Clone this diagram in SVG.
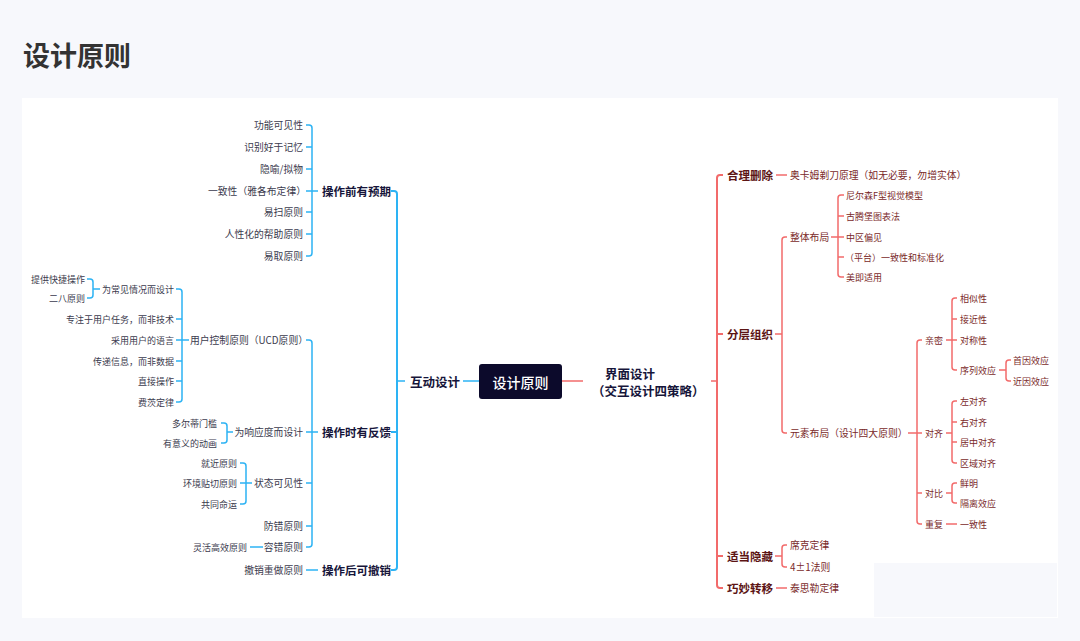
<svg xmlns="http://www.w3.org/2000/svg" width="1080" height="641" viewBox="0 0 1080 641">
<style>
text{font-family:"Noto Sans CJK SC","Noto Sans",sans-serif;dominant-baseline:central}
.title{font-size:27px;font-weight:bold;fill:#333333;dominant-baseline:alphabetic}
.l2{font-size:9.8px;fill:#3b3b4e;text-anchor:end}
.l3{font-size:9px;fill:#3b3b4e;text-anchor:end}
.lb{font-size:11.5px;font-weight:bold;fill:#16153a;text-anchor:end}
.mid{font-size:12.5px;font-weight:bold;fill:#16153a}
.root{font-size:14px;font-weight:500;fill:#ffffff;text-anchor:middle}
.r2{font-size:9.8px;fill:#7a2a2a}
.r3{font-size:9px;fill:#7a2a2a}
.rb{font-size:11.5px;font-weight:bold;fill:#5c1414}
.bl{fill:none;stroke:#2db3f4;stroke-width:1.5}
.rd{fill:none;stroke:#f26b6b;stroke-width:1.5}
</style>
<rect x="0" y="0" width="1080" height="641" fill="#f7f8fc"/>
<text class="title" x="23" y="66">设计原则</text>
<rect x="22" y="98" width="1036" height="520" fill="#ffffff"/>

<g id="connectors">
  <path class="bl" d="M463 381H479"/>
  <path class="bl" d="M397 381H405"/>
  <path class="bl" style="stroke-width:2" d="M391 191H394Q397 191 397 194V567Q397 570 394 570H391M391 432H397"/>
  <path class="bl" d="M306 125H309Q312 125 312 128V253Q312 256 309 256H306M306 147H312M306 169H312M306 212H312M306 234H312M306 191H318"/>
  <path class="bl" d="M306 340H309Q312 340 312 343V544Q312 547 309 547H306M306 483H312M306 526H312M306 432H318"/>
  <path class="bl" d="M306 570H318"/>
  <path class="bl" d="M176 289H179Q182 289 182 292V399Q182 402 179 402H176M176 319H182M176 361H182M176 381H182M176 340H189"/>
  <path class="bl" d="M87 279H90Q93 279 93 282V295Q93 298 90 298H87M93 289H100"/>
  <path class="bl" d="M221 423H224Q227 423 227 426V440Q227 443 224 443H221M227 432H233"/>
  <path class="bl" d="M240 463H243Q246 463 246 466V501Q246 504 243 504H240M240 483H252"/>
  <path class="bl" d="M250 547H263"/>

  <path class="rd" d="M561 381H583"/>
  <path class="rd" d="M711 381H717"/>
  <path class="rd" style="stroke-width:2" d="M723 175H720Q717 175 717 178V585Q717 588 720 588H723M717 334H723M717 556H723"/>
  <path class="rd" d="M776 175H787"/>
  <path class="rd" d="M787 237H785Q782 237 782 240V430Q782 433 785 433H787M775 334H782"/>
  <path class="rd" d="M844 195H841Q838 195 838 198V274Q838 277 841 277H844M838 216H844M838 257H844M831 237H844"/>
  <path class="rd" d="M922 340H920Q917 340 917 343V521Q917 524 920 524H922M917 493H922M908 433H922"/>
  <path class="rd" d="M957 298H955Q952 298 952 301V367Q952 370 955 370H957M952 319H957M946 340H957"/>
  <path class="rd" d="M1011 360H1009Q1006 360 1006 363V378Q1006 381 1009 381H1011M999 370H1006"/>
  <path class="rd" d="M957 401H955Q952 401 952 404V460Q952 463 955 463H957M952 422H957M952 442H957M946 433H952"/>
  <path class="rd" d="M957 483H955Q952 483 952 486V500Q952 503 955 503H957M946 493H952"/>
  <path class="rd" d="M946 524H957"/>
  <path class="rd" d="M787 545H785Q782 545 782 548V564Q782 567 785 567H787M775 556H782"/>
  <path class="rd" d="M776 588H787"/>
</g>

<g id="root"><rect x="479" y="364" width="83" height="35" rx="3" fill="#0c0a2b"/><text class="root" x="520.5" y="381.5">设计原则</text></g>

<g id="hudong"><text class="mid" x="410" y="381">互动设计</text></g>
<g id="qian"><text class="lb" x="391" y="191">操作前有预期</text></g>
<g id="shi"><text class="lb" x="391" y="432">操作时有反馈</text></g>
<g id="hou"><text class="lb" x="391" y="570">操作后可撤销</text></g>

<g id="qian-children">
  <g id="n-gongneng"><text class="l2" x="303" y="125">功能可见性</text></g>
  <g id="n-shibie"><text class="l2" x="303" y="147">识别好于记忆</text></g>
  <g id="n-yinyu"><text class="l2" x="303" y="169">隐喻/拟物</text></g>
  <g id="n-yizhi"><text class="l2" x="306" y="191">一致性（雅各布定律）</text></g>
  <g id="n-yisao"><text class="l2" x="303" y="212">易扫原则</text></g>
  <g id="n-renxing"><text class="l2" x="303" y="234">人性化的帮助原则</text></g>
  <g id="n-yiqu"><text class="l2" x="303" y="256">易取原则</text></g>
</g>

<g id="shi-children">
  <g id="n-ucd"><text class="l2" x="308" y="340">用户控制原则（UCD原则）</text></g>
  <g id="n-xiangying"><text class="l2" x="303" y="432">为响应度而设计</text></g>
  <g id="n-zhuangtai"><text class="l2" x="303" y="483">状态可见性</text></g>
  <g id="n-fangcuo"><text class="l2" x="303" y="526">防错原则</text></g>
  <g id="n-rongcuo"><text class="l2" x="303" y="547">容错原则</text></g>
</g>
<g id="n-chexiao"><text class="l2" x="303" y="570">撤销重做原则</text></g>

<g id="ucd-children">
  <g id="n-changjian"><text class="l3" x="174" y="289">为常见情况而设计</text></g>
  <g id="n-zhuanzhu"><text class="l3" x="174" y="319">专注于用户任务，而非技术</text></g>
  <g id="n-caiyong"><text class="l3" x="174" y="340">采用用户的语言</text></g>
  <g id="n-chuandi"><text class="l3" x="174" y="361">传递信息，而非数据</text></g>
  <g id="n-zhijie"><text class="l3" x="174" y="381">直接操作</text></g>
  <g id="n-feici"><text class="l3" x="174" y="402">费茨定律</text></g>
</g>
<g id="n-kuaijie"><text class="l3" x="85" y="279">提供快捷操作</text></g>
<g id="n-erba"><text class="l3" x="85" y="298">二八原则</text></g>
<g id="n-duoerdi"><text class="l3" x="217" y="423">多尔蒂门槛</text></g>
<g id="n-donghua"><text class="l3" x="217" y="443">有意义的动画</text></g>
<g id="n-jiujin"><text class="l3" x="237" y="463">就近原则</text></g>
<g id="n-huanjing"><text class="l3" x="237" y="483">环境贴切原则</text></g>
<g id="n-gongtong"><text class="l3" x="237" y="504">共同命运</text></g>
<g id="n-linghuo"><text class="l3" x="247" y="547">灵活高效原则</text></g>

<g id="jiemian"><text class="mid" x="605" y="373" style="font-weight:600">界面设计</text><text class="mid" x="592" y="390" style="font-weight:600">（交互设计四策略）</text></g>

<g id="heli"><text class="rb" x="727" y="175">合理删除</text></g>
<g id="fenceng"><text class="rb" x="727" y="334">分层组织</text></g>
<g id="yincang"><text class="rb" x="727" y="556">适当隐藏</text></g>
<g id="zhuanyi"><text class="rb" x="727" y="588">巧妙转移</text></g>

<g id="n-aoka"><text class="r2" x="790" y="175">奥卡姆剃刀原理（如无必要，勿增实体）</text></g>
<g id="n-zhengti"><text class="r2" x="790" y="237">整体布局</text></g>
<g id="n-yuansu"><text class="r2" x="790" y="433">元素布局（设计四大原则）</text></g>
<g id="n-xike"><text class="r2" x="790" y="545">席克定律</text></g>
<g id="n-sijia"><text class="r2" x="790" y="567">4±1法则</text></g>
<g id="n-taisi"><text class="r2" x="790" y="588">泰思勒定律</text></g>

<g id="n-nier"><text class="r3" x="846" y="195">尼尔森F型视觉模型</text></g>
<g id="n-guteng"><text class="r3" x="846" y="216">古腾堡图表法</text></g>
<g id="n-zhongqu"><text class="r3" x="846" y="237">中区偏见</text></g>
<g id="n-pingtai"><text class="r3" x="845" y="257">（平台）一致性和标准化</text></g>
<g id="n-meiji"><text class="r3" x="846" y="277">美即适用</text></g>

<g id="n-qinmi"><text class="r3" x="925" y="340">亲密</text></g>
<g id="n-duiqi"><text class="r3" x="925" y="433">对齐</text></g>
<g id="n-duibi"><text class="r3" x="925" y="493">对比</text></g>
<g id="n-chongfu"><text class="r3" x="925" y="524">重复</text></g>

<g id="n-xiangsi"><text class="r3" x="960" y="298">相似性</text></g>
<g id="n-jiejin"><text class="r3" x="960" y="319">接近性</text></g>
<g id="n-duicheng"><text class="r3" x="960" y="340">对称性</text></g>
<g id="n-xulie"><text class="r3" x="960" y="370">序列效应</text></g>
<g id="n-shouyin"><text class="r3" x="1013" y="360">首因效应</text></g>
<g id="n-jinyin"><text class="r3" x="1013" y="381">近因效应</text></g>
<g id="n-zuo"><text class="r3" x="960" y="401">左对齐</text></g>
<g id="n-you"><text class="r3" x="960" y="422">右对齐</text></g>
<g id="n-juzhong"><text class="r3" x="960" y="442">居中对齐</text></g>
<g id="n-quyu"><text class="r3" x="960" y="463">区域对齐</text></g>
<g id="n-xianming"><text class="r3" x="960" y="483">鲜明</text></g>
<g id="n-geli"><text class="r3" x="960" y="503">隔离效应</text></g>
<g id="n-yizhixing"><text class="r3" x="960" y="524">一致性</text></g>

<rect x="874" y="563" width="183" height="54" fill="#f7f8fc"/>
</svg>
